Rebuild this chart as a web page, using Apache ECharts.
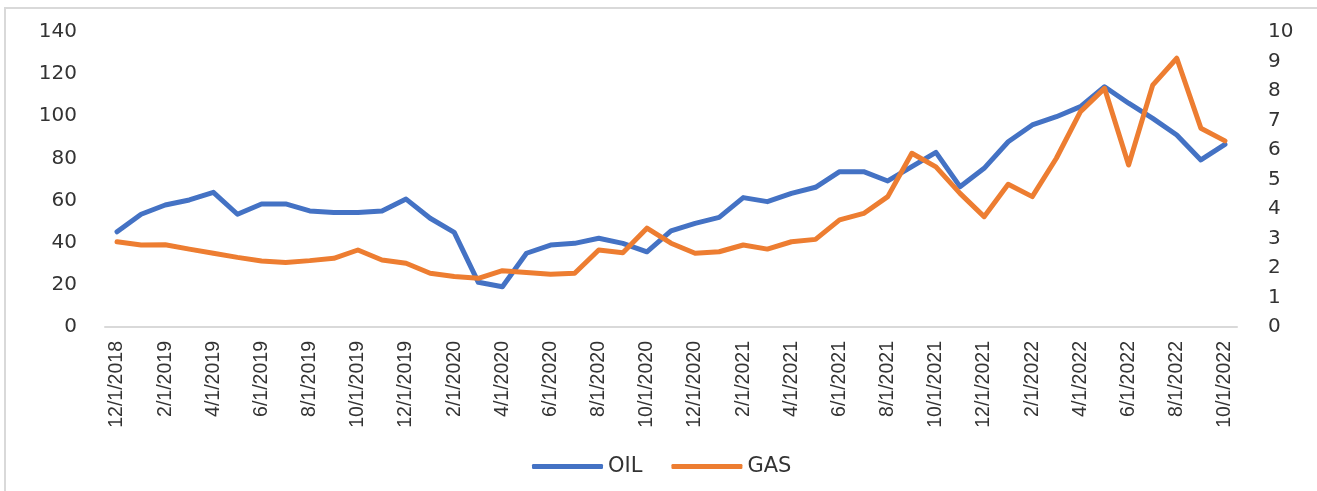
<!DOCTYPE html>
<html>
<head>
<meta charset="utf-8">
<script src="https://cdn.jsdelivr.net/npm/echarts@6/dist/echarts.min.js"></script>
<style>
  html, body { margin: 0; padding: 0; background: #fff; }
  #main { width: 1317px; height: 491px; }
</style>
</head>
<body>
<div id="main"></div>
<script>
// monthly dates, first of month
var months = [
  "12/1/2018",
  "1/1/2019", "2/1/2019", "3/1/2019", "4/1/2019", "5/1/2019", "6/1/2019",
  "7/1/2019", "8/1/2019", "9/1/2019", "10/1/2019", "11/1/2019", "12/1/2019",
  "1/1/2020", "2/1/2020", "3/1/2020", "4/1/2020", "5/1/2020", "6/1/2020",
  "7/1/2020", "8/1/2020", "9/1/2020", "10/1/2020", "11/1/2020", "12/1/2020",
  "1/1/2021", "2/1/2021", "3/1/2021", "4/1/2021", "5/1/2021", "6/1/2021",
  "7/1/2021", "8/1/2021", "9/1/2021", "10/1/2021", "11/1/2021", "12/1/2021",
  "1/1/2022", "2/1/2022", "3/1/2022", "4/1/2022", "5/1/2022", "6/1/2022",
  "7/1/2022", "8/1/2022", "9/1/2022", "10/1/2022"
];

// left axis
var oil = [
  45.2,
  53.5, 57.9, 60.3, 63.9, 53.5, 58.4, 58.4, 55.1, 54.3, 54.3, 55.1, 60.7,
  51.6, 44.9, 21.2, 19.1, 35.0, 38.9, 39.7, 42.1, 39.7, 35.7, 45.6, 49.2,
  52.0, 61.4, 59.5, 63.4, 66.3, 73.7, 73.7, 69.3, 76.1, 82.9, 66.6, 75.3,
  87.9, 95.9, 99.8, 104.6, 114.0, 106.2, 99.0, 91.1, 79.3, 86.7
];

// right axis
var gas = [
  2.89,
  2.78, 2.79, 2.64, 2.50, 2.36, 2.24, 2.19, 2.25, 2.33, 2.61, 2.27, 2.16,
  1.82, 1.71, 1.65, 1.91, 1.85, 1.79, 1.82, 2.61, 2.52, 3.35, 2.84, 2.50,
  2.55, 2.78, 2.64, 2.89, 2.97, 3.63, 3.85, 4.42, 5.89, 5.43, 4.53, 3.74,
  4.84, 4.42, 5.72, 7.30, 8.09, 5.49, 8.20, 9.11, 6.74, 6.31
];

var myChart = echarts.init(document.getElementById("main"));

var labelFont = "'DejaVu Sans', sans-serif";

var option = {
  animation: false,
  backgroundColor: "#fff",
  graphic: [
    {
      type: "rect",
      shape: { x: 5, y: 8, width: 1330, height: 500 },
      style: { fill: "none", stroke: "#d9d9d9", lineWidth: 2 },
      silent: true
    }
  ],
  grid: {
    left: 105,
    right: 80,
    top: 32,
    bottom: 164
  },
  legend: {
    left: 527,
    top: 451,
    icon: "roundRect",
    itemWidth: 71,
    itemHeight: 5,
    itemGap: 29,
    textStyle: {
      fontFamily: labelFont,
      fontSize: 21,
      color: "#333"
    },
    data: ["OIL", "GAS"]
  },
  xAxis: {
    type: "category",
    boundaryGap: true,
    data: months,
    axisLine: { lineStyle: { color: "#d9d9d9", width: 2 } },
    axisTick: {
      interval: 1,
      length: 6,
      lineStyle: { color: "#d9d9d9", width: 2 }
    },
    axisLabel: {
      interval: 1,
      rotate: 90,
      margin: 14,
      fontFamily: "'Liberation Sans', Arial, sans-serif",
      fontSize: 19.5,
      color: "#333"
    }
  },
  yAxis: [
    {
      type: "value",
      min: 0,
      max: 140,
      interval: 20,
      splitLine: { show: false },
      axisLine: { show: false },
      axisTick: { show: false },
      axisLabel: {
        margin: 28,
        fontFamily: labelFont,
        fontSize: 20,
        color: "#333"
      }
    },
    {
      type: "value",
      min: 0,
      max: 10,
      interval: 1,
      splitLine: { show: false },
      axisLine: { show: false },
      axisTick: { show: false },
      axisLabel: {
        margin: 31,
        fontFamily: labelFont,
        fontSize: 20,
        color: "#333"
      }
    }
  ],
  series: [
    {
      name: "OIL",
      type: "line",
      yAxisIndex: 0,
      data: oil,
      showSymbol: false,
      color: "#4472C4",
      lineStyle: { width: 5, color: "#4472C4", cap: "round", join: "round" }
    },
    {
      name: "GAS",
      type: "line",
      yAxisIndex: 1,
      data: gas,
      showSymbol: false,
      color: "#ED7D31",
      lineStyle: { width: 5, color: "#ED7D31", cap: "round", join: "round" }
    }
  ]
};

myChart.setOption(option);
</script>
</body>
</html>
